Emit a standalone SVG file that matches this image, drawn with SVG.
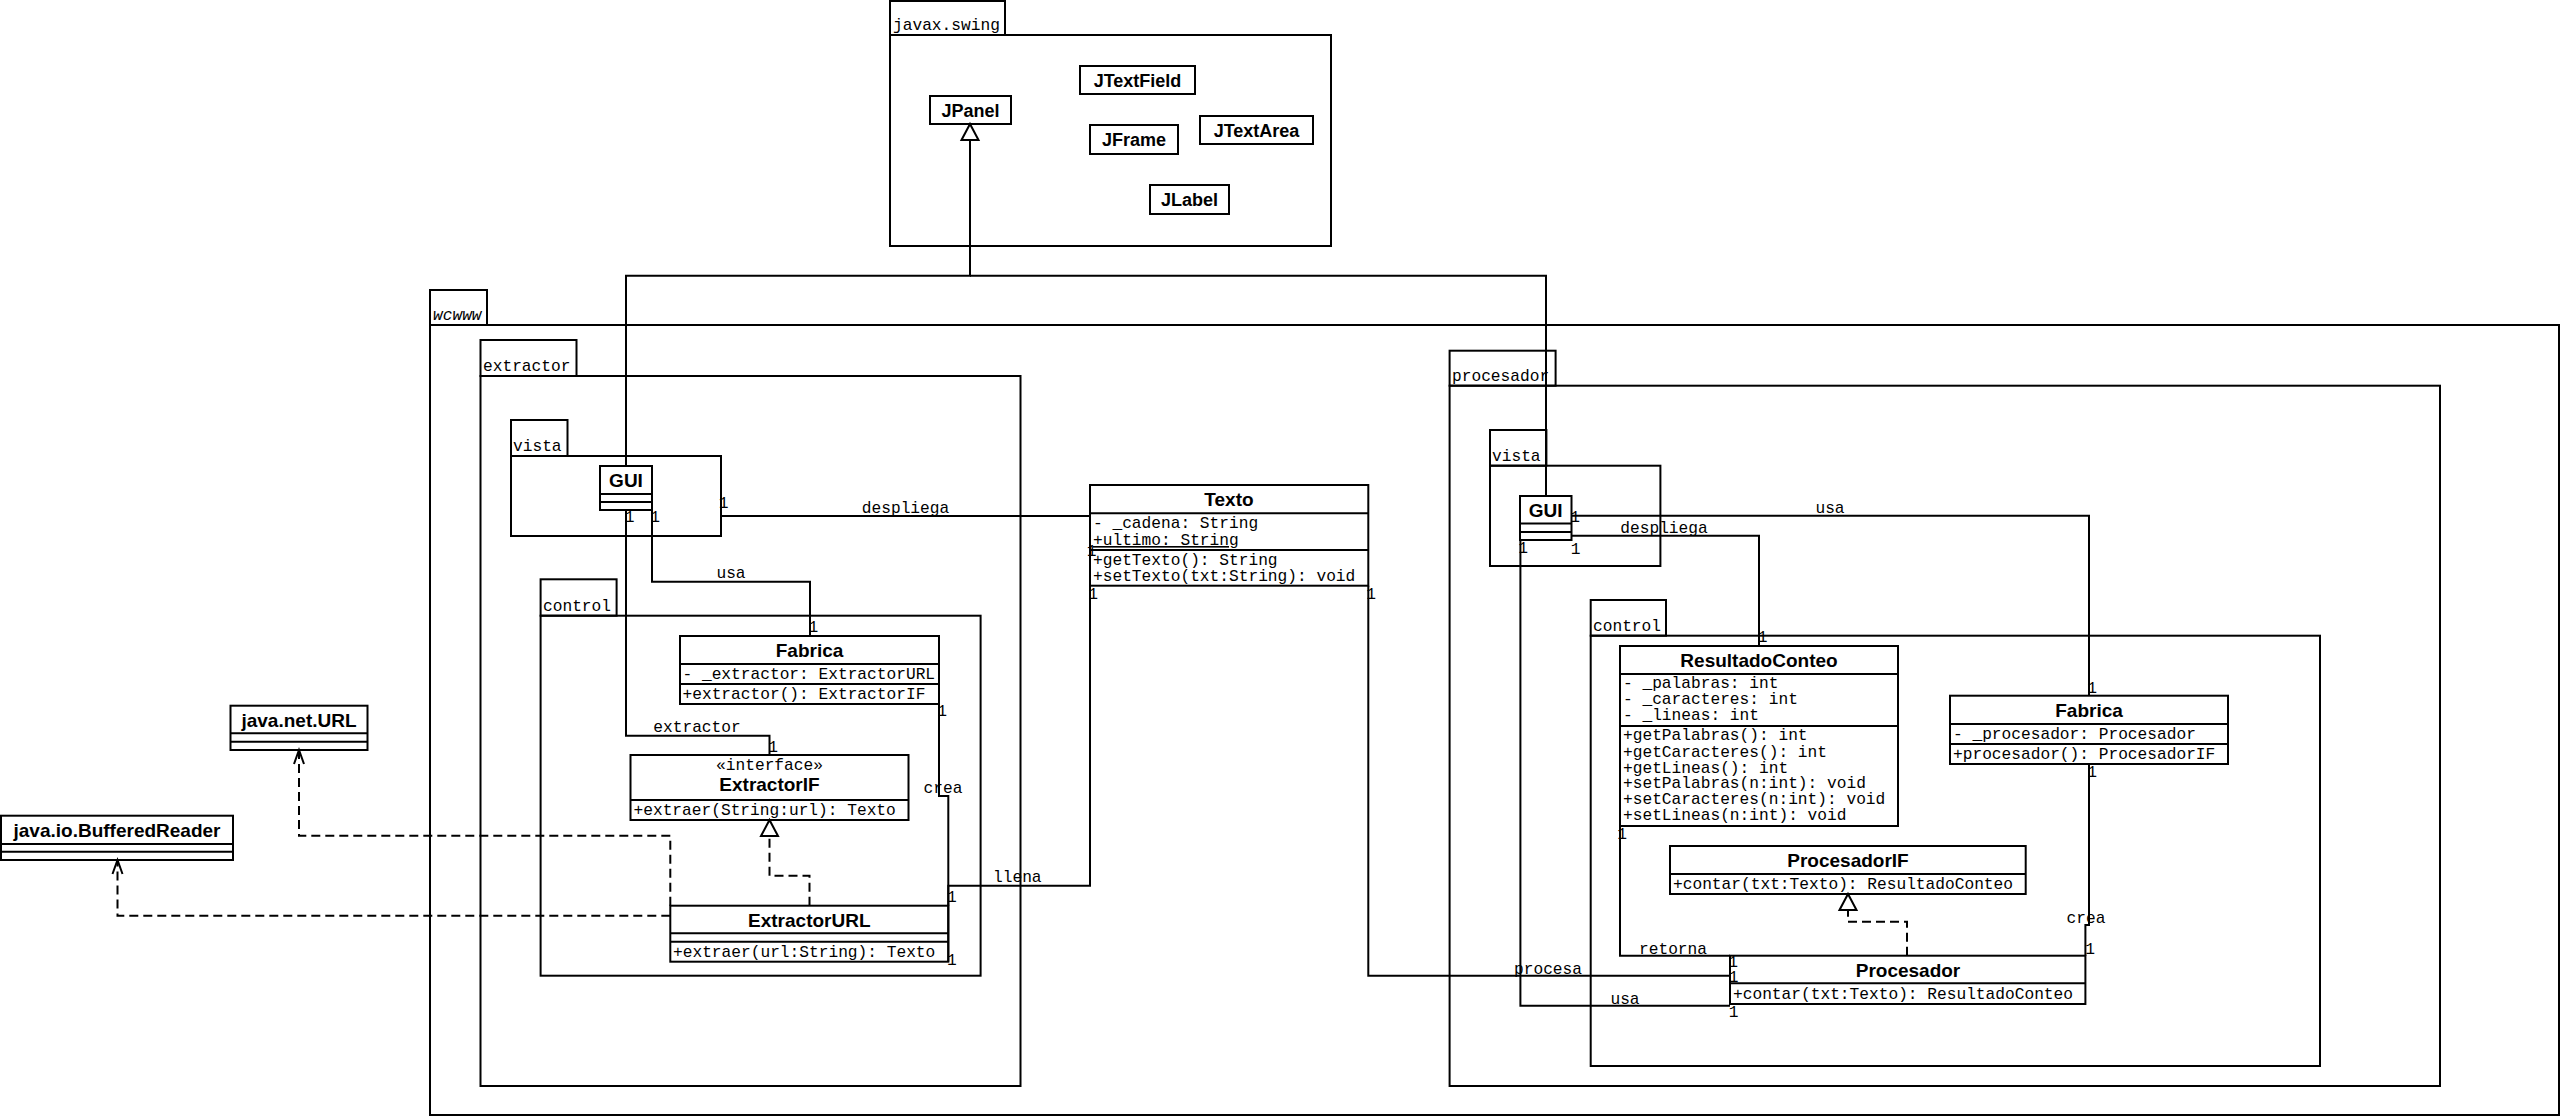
<svg xmlns="http://www.w3.org/2000/svg" width="2560" height="1116" viewBox="0 0 2560 1116">
<style>
  .pkg { fill: none; stroke: #000; stroke-width: 2; }
  .box { fill: #fff; stroke: #000; stroke-width: 2; }
  .div { stroke: #000; stroke-width: 2; }
  .con { fill: none; stroke: #000; stroke-width: 2; }
  .dash { stroke-dasharray: 9 5; }
  .mono { font-family: "Liberation Mono", "Courier New", monospace; font-size: 16.2px; fill: #000; }
  .mid { text-anchor: middle; }
  .name { font-family: "Liberation Sans", Arial, sans-serif; font-weight: bold; font-size: 19px; text-anchor: middle; fill: #000; }
  .sname { font-family: "Liberation Sans", Arial, sans-serif; font-weight: bold; font-size: 18px; text-anchor: middle; fill: #000; }
</style>
<defs>
  <marker id="tri" markerUnits="userSpaceOnUse" viewBox="-2 -2 20 21" markerWidth="20" markerHeight="21" refX="16" refY="8.5" orient="auto" overflow="visible">
    <path d="M0,0 L16,8.5 L0,17 Z" fill="#fff" stroke="#000" stroke-width="2"/>
  </marker>
  <marker id="open" markerUnits="userSpaceOnUse" viewBox="-2 -2 18 14" markerWidth="18" markerHeight="14" refX="14" refY="5" orient="auto" overflow="visible">
    <path d="M0,0 L14,5 L0,10" fill="none" stroke="#000" stroke-width="2"/>
  </marker>
</defs>
<rect width="2560" height="1116" fill="#fff"/>

<!-- packages -->
<g id="pkg-javax-swing">
  <rect class="pkg" x="890" y="1" width="115" height="34"/>
  <rect class="pkg" x="890" y="35" width="441" height="211"/>
  <text class="mono" x="893" y="30">javax.swing</text>
</g>
<g id="pkg-wcwww">
  <rect class="pkg" x="430" y="290" width="57" height="35"/>
  <rect class="pkg" x="430" y="325" width="2129" height="790"/>
  <text class="mono" x="433" y="320" font-size="13" font-style="italic">wcwww</text>
</g>
<g id="pkg-extractor">
  <rect class="pkg" x="480.5" y="340" width="96" height="36"/>
  <rect class="pkg" x="480.5" y="376" width="540" height="710"/>
  <text class="mono" x="483" y="371">extractor</text>
</g>
<g id="pkg-extractor-vista">
  <rect class="pkg" x="511" y="420" width="56.5" height="36"/>
  <rect class="pkg" x="511" y="456" width="210" height="80"/>
  <text class="mono" x="513" y="451">vista</text>
</g>
<g id="pkg-extractor-control">
  <rect class="pkg" x="540.6" y="579.3" width="76" height="36.4"/>
  <rect class="pkg" x="540.6" y="615.7" width="440" height="360"/>
  <text class="mono" x="543" y="611">control</text>
</g>
<g id="pkg-procesador">
  <rect class="pkg" x="1449.6" y="350.7" width="106" height="35"/>
  <rect class="pkg" x="1449.6" y="385.7" width="990.4" height="700.3"/>
  <text class="mono" x="1452" y="381">procesador</text>
</g>
<g id="pkg-procesador-vista">
  <rect class="pkg" x="1490" y="430" width="56.4" height="35.7"/>
  <rect class="pkg" x="1490" y="465.7" width="170.4" height="100.3"/>
  <text class="mono" x="1492" y="461">vista</text>
</g>
<g id="pkg-procesador-control">
  <rect class="pkg" x="1590.7" y="600" width="75.3" height="35.7"/>
  <rect class="pkg" x="1590.7" y="635.7" width="729.3" height="430.3"/>
  <text class="mono" x="1593" y="631">control</text>
</g>

<!-- classes -->
<g id="JPanel"><rect class="box" x="930" y="96" width="81" height="28"/><text class="sname" x="970.5" y="116.5">JPanel</text></g>
<g id="JTextField"><rect class="box" x="1080" y="66" width="115" height="28"/><text class="sname" x="1137.5" y="86.5">JTextField</text></g>
<g id="JFrame"><rect class="box" x="1090" y="125" width="88" height="29"/><text class="sname" x="1134" y="146">JFrame</text></g>
<g id="JTextArea"><rect class="box" x="1200" y="116" width="113" height="28"/><text class="sname" x="1256.5" y="136.5">JTextArea</text></g>
<g id="JLabel"><rect class="box" x="1150" y="185" width="79" height="29"/><text class="sname" x="1189.5" y="206">JLabel</text></g>

<g id="GUI-extractor">
  <rect class="box" x="600" y="466" width="52" height="44"/>
  <line class="div" x1="600" y1="494" x2="652" y2="494"/>
  <line class="div" x1="600" y1="502" x2="652" y2="502"/>
  <text class="name" x="626" y="487">GUI</text>
</g>
<g id="Fabrica-extractor">
  <rect class="box" x="680" y="636" width="259" height="68"/>
  <line class="div" x1="680" y1="664" x2="939" y2="664"/>
  <line class="div" x1="680" y1="684" x2="939" y2="684"/>
  <text class="name" x="809.5" y="657">Fabrica</text>
  <text class="mono" x="682.5" y="679">- _extractor: ExtractorURL</text>
  <text class="mono" x="682.5" y="699">+extractor(): ExtractorIF</text>
</g>
<g id="ExtractorIF">
  <rect class="box" x="630.5" y="755" width="278" height="65"/>
  <line class="div" x1="630.5" y1="800" x2="908.5" y2="800"/>
  <text class="mono mid" x="769.5" y="770" font-size="15">«interface»</text>
  <text class="name" x="769.5" y="790.5">ExtractorIF</text>
  <text class="mono" x="633.5" y="815">+extraer(String:url): Texto</text>
</g>
<g id="ExtractorURL">
  <rect class="box" x="670.3" y="905.7" width="278" height="56"/>
  <line class="div" x1="670.3" y1="933.3" x2="948.3" y2="933.3"/>
  <line class="div" x1="670.3" y1="941.7" x2="948.3" y2="941.7"/>
  <text class="name" x="809.3" y="926.5">ExtractorURL</text>
  <text class="mono" x="673" y="956.7">+extraer(url:String): Texto</text>
</g>
<g id="Texto">
  <rect class="box" x="1090" y="485" width="278.3" height="100.7"/>
  <line class="div" x1="1090" y1="513.3" x2="1368.3" y2="513.3"/>
  <line class="div" x1="1090" y1="550" x2="1368.3" y2="550"/>
  <text class="name" x="1229" y="506">Texto</text>
  <text class="mono" x="1093" y="528">- _cadena: String</text>
  <text class="mono" x="1093" y="545" text-decoration="underline">+ultimo: String</text>
  <text class="mono" x="1093" y="565">+getTexto(): String</text>
  <text class="mono" x="1093" y="581">+setTexto(txt:String): void</text>
</g>
<g id="java.net.URL">
  <rect class="box" x="230.5" y="705.7" width="137" height="44.3"/>
  <line class="div" x1="230.5" y1="733.3" x2="367.5" y2="733.3"/>
  <line class="div" x1="230.5" y1="741.7" x2="367.5" y2="741.7"/>
  <text class="name" x="299" y="726.5">java.net.URL</text>
</g>
<g id="java.io.BufferedReader">
  <rect class="box" x="1" y="815.7" width="232" height="44.3"/>
  <line class="div" x1="1" y1="844" x2="233" y2="844"/>
  <line class="div" x1="1" y1="851.7" x2="233" y2="851.7"/>
  <text class="name" x="117" y="837">java.io.BufferedReader</text>
</g>
<g id="GUI-procesador">
  <rect class="box" x="1520" y="496" width="51.5" height="44"/>
  <line class="div" x1="1520" y1="523.5" x2="1571.5" y2="523.5"/>
  <line class="div" x1="1520" y1="532" x2="1571.5" y2="532"/>
  <text class="name" x="1545.7" y="516.5">GUI</text>
</g>
<g id="ResultadoConteo">
  <rect class="box" x="1620" y="646" width="278" height="180"/>
  <line class="div" x1="1620" y1="674" x2="1898" y2="674"/>
  <line class="div" x1="1620" y1="726" x2="1898" y2="726"/>
  <text class="name" x="1759" y="667">ResultadoConteo</text>
  <text class="mono" x="1623" y="688">- _palabras: int</text>
  <text class="mono" x="1623" y="704">- _caracteres: int</text>
  <text class="mono" x="1623" y="720">- _lineas: int</text>
  <text class="mono" x="1623" y="740">+getPalabras(): int</text>
  <text class="mono" x="1623" y="756.5">+getCaracteres(): int</text>
  <text class="mono" x="1623" y="772.5">+getLineas(): int</text>
  <text class="mono" x="1623" y="788">+setPalabras(n:int): void</text>
  <text class="mono" x="1623" y="804">+setCaracteres(n:int): void</text>
  <text class="mono" x="1623" y="820">+setLineas(n:int): void</text>
</g>
<g id="Fabrica-procesador">
  <rect class="box" x="1950" y="695.7" width="278" height="68.3"/>
  <line class="div" x1="1950" y1="724" x2="2228" y2="724"/>
  <line class="div" x1="1950" y1="744" x2="2228" y2="744"/>
  <text class="name" x="2089" y="717">Fabrica</text>
  <text class="mono" x="1953" y="739">- _procesador: Procesador</text>
  <text class="mono" x="1953" y="759">+procesador(): ProcesadorIF</text>
</g>
<g id="ProcesadorIF">
  <rect class="box" x="1670" y="846" width="355.7" height="48"/>
  <line class="div" x1="1670" y1="874" x2="2025.7" y2="874"/>
  <text class="name" x="1848" y="867">ProcesadorIF</text>
  <text class="mono" x="1673" y="888.5">+contar(txt:Texto): ResultadoConteo</text>
</g>
<g id="Procesador">
  <rect class="box" x="1730" y="955.7" width="355.4" height="48.3"/>
  <line class="div" x1="1730" y1="983.3" x2="2085.4" y2="983.3"/>
  <text class="name" x="1908" y="976.5">Procesador</text>
  <text class="mono" x="1733" y="999">+contar(txt:Texto): ResultadoConteo</text>
</g>

<!-- connectors -->
<g id="connectors">
  <path class="con" d="M626,466 V275.7 H970 V124" marker-end="url(#tri)"/>
  <path class="con" d="M1546,496 V275.7 H970"/>

  <path class="con" d="M626,510 V735.7 H769.5 V755"/>
  <path class="con" d="M652,510 V581.7 H810 V636"/>
  <path class="con" d="M721,516 H1090"/>
  <path class="con" d="M1090,585.7 V885.7 H948.3 V961.7"/>
  <path class="con" d="M939,704 V796 H948.3 V905.7"/>
  <path class="con dash" d="M809.5,905.7 V875.7 H769.5 V820" marker-end="url(#tri)"/>
  <path class="con dash" d="M670.3,905.7 V835.7 H299 V750" marker-end="url(#open)"/>
  <path class="con dash" d="M670.3,915.7 H117.5 V860" marker-end="url(#open)"/>

  <path class="con" d="M1571.5,515.7 H2089 V695.7"/>
  <path class="con" d="M1571.5,535.7 H1759 V646"/>
  <path class="con" d="M1520.4,540 V1005.7 H1730"/>
  <path class="con" d="M1368.3,585.7 V975.7 H1730"/>
  <path class="con" d="M1620,826 V955.7 H1730"/>
  <path class="con" d="M2089,764 V925 H2085.4 V955.7"/>
  <path class="con dash" d="M1907,955.7 V921.7 H1848 V894" marker-end="url(#tri)"/>

  <g class="mono">
    <text class="mid" x="697" y="732">extractor</text>
    <text class="mid" x="629.6" y="522">1</text>
    <text class="mid" x="773" y="752">1</text>
    <text class="mid" x="731" y="578">usa</text>
    <text class="mid" x="655" y="522">1</text>
    <text class="mid" x="813.4" y="632">1</text>
    <text class="mid" x="905.5" y="512.5">despliega</text>
    <text class="mid" x="723.7" y="508">1</text>
    <text class="mid" x="1091.7" y="556">1</text>
    <text x="993" y="881.5">llena</text>
    <text class="mid" x="1093" y="599">1</text>
    <text class="mid" x="951.8" y="902">1</text>
    <text class="mid" x="951.8" y="964.5">1</text>
    <text class="mid" x="943" y="792.5">crea</text>
    <text class="mid" x="942" y="716">1</text>

    <text class="mid" x="1830" y="512.5">usa</text>
    <text class="mid" x="1575" y="522">1</text>
    <text class="mid" x="2092" y="692.5">1</text>
    <text class="mid" x="1664" y="532.5">despliega</text>
    <text class="mid" x="1575.7" y="553.5">1</text>
    <text class="mid" x="1762.5" y="642">1</text>
    <text class="mid" x="1523" y="552.5">1</text>
    <text class="mid" x="1625" y="1003.5">usa</text>
    <text class="mid" x="1733.7" y="1017">1</text>
    <text class="mid" x="1371" y="599">1</text>
    <text class="mid" x="1548" y="973.5">procesa</text>
    <text class="mid" x="1733.7" y="982">1</text>
    <text class="mid" x="1622" y="838.5">1</text>
    <text class="mid" x="1673" y="953.5">retorna</text>
    <text class="mid" x="1733" y="967">1</text>
    <text class="mid" x="2092" y="777">1</text>
    <text class="mid" x="2086" y="923">crea</text>
    <text class="mid" x="2090" y="953.5">1</text>
  </g>
</g>
</svg>
